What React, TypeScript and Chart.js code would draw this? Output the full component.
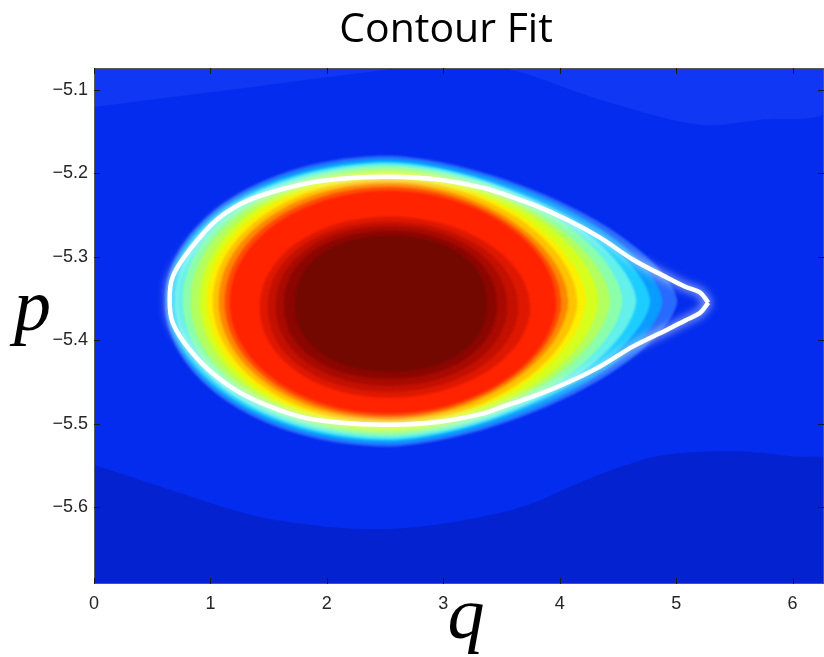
import { useEffect, useRef } from 'react';
import { Chart, registerables } from 'chart.js';

// ---- text ----
const TITLE = 'Contour Fit';
const X_LABEL = 'q';
const Y_LABEL = 'p';

// ---- axes ----
const Q_MIN = 0;
const Q_MAX = 6.27;
const P_MIN = -5.692;
const P_MAX = -5.074;
const xTickValues = [0, 1, 2, 3, 4, 5, 6];
const yTickValues = [-5.6, -5.5, -5.4, -5.3, -5.2, -5.1];

// ---- white fitted contour (q, p) ----
const contourQ = [5.276, 5.207, 5.078, 4.923, 4.631, 4.347, 4.063, 3.771, 3.487, 3.341, 2.972, 2.542, 2.114, 1.770, 1.339, 1.055, 0.822, 0.676, 0.650, 0.676, 0.822, 1.055, 1.339, 1.770, 2.114, 2.542, 2.972, 3.341, 3.487, 3.771, 4.063, 4.347, 4.631, 4.923, 5.078, 5.207, 5.276];
const contourP = [-5.3551, -5.3431, -5.3359, -5.3251, -5.3036, -5.2772, -5.2557, -5.2377, -5.2237, -5.2174, -5.2078, -5.2042, -5.2066, -5.2138, -5.2317, -5.2557, -5.2916, -5.3240, -5.3515, -5.3790, -5.4114, -5.4437, -5.4689, -5.4916, -5.4988, -5.5012, -5.4976, -5.4880, -5.4808, -5.4673, -5.4509, -5.4314, -5.4074, -5.3874, -5.3763, -5.3671, -5.3551];

// ---- filled contour levels (outer -> inner): extents ----
const levelLeftQ = [0.607, 0.624, 0.650, 0.693, 0.762, 0.830, 0.908, 0.968, 1.020, 1.071, 1.123, 1.166, 1.424, 1.492, 1.561, 1.630, 1.725];
const levelRightQ = [5.010, 4.882, 4.777, 4.657, 4.537, 4.433, 4.330, 4.227, 4.150, 4.072, 4.012, 3.969, 3.745, 3.642, 3.548, 3.462, 3.376];
const levelTopP = [-5.1790, -5.1826, -5.1862, -5.1880, -5.1910, -5.1946, -5.1982, -5.2018, -5.2066, -5.2114, -5.2162, -5.2210, -5.2521, -5.2581, -5.2629, -5.2689, -5.2749];
const levelBottomP = [-5.5275, -5.5240, -5.5204, -5.5180, -5.5144, -5.5108, -5.5072, -5.5036, -5.5000, -5.4952, -5.4916, -5.4880, -5.4689, -5.4617, -5.4545, -5.4461, -5.4377];
const levelPeakQ = [2.542, 2.542, 2.542, 2.542, 2.542, 2.542, 2.542, 2.542, 2.542, 2.542, 2.542, 2.542, 2.542, 2.542, 2.542, 2.542, 2.542];
const levelLeftShape = [2.0, 2.0, 2.0, 2.0, 2.0, 2.0, 2.0, 2.0, 2.0, 2.0, 2.0, 2.0, 2.05, 2.1, 2.1, 2.15, 2.15];
const levelRightShape = [1.55, 1.6, 1.6, 1.65, 1.7, 1.7, 1.75, 1.75, 1.8, 1.8, 1.85, 1.9, 1.95, 2.0, 2.05, 2.1, 2.15];
const levelColors = [
  'rgb(40,105,255)', 'rgb(10,155,255)', 'rgb(30,205,255)', 'rgb(100,240,235)',
  'rgb(140,255,170)', 'rgb(178,255,95)', 'rgb(215,255,30)', 'rgb(250,240,0)',
  'rgb(255,195,0)', 'rgb(255,135,0)', 'rgb(255,75,0)', 'rgb(255,35,0)',
  'rgb(222,24,0)', 'rgb(195,16,0)', 'rgb(168,10,0)', 'rgb(140,6,0)', 'rgb(114,8,0)',
];

// ---- background level regions ----
const BASE_BLUE = 'rgb(4,44,238)';
const lowerRegionQ = [-0.05, 0.822, 1.396, 1.966, 2.542, 3.118, 3.694, 4.267, 4.837, 5.471, 5.987, 6.32];
const lowerRegionP = [-5.547, -5.587, -5.611, -5.623, -5.626, -5.617, -5.599, -5.565, -5.539, -5.533, -5.539, -5.548];
const lowerRegionColor = 'rgb(4,34,208)';
const upperRegionQ = [-0.05, 1.17, 2.378, 3.0, 3.582, 4.35, 5.198, 5.72, 6.32];
const upperRegionP = [-5.1216, -5.100, -5.0784, -5.068, -5.076, -5.112, -5.1419, -5.136, -5.1216];
const upperRegionColor = 'rgb(16,55,243)';

const RING_STEPS = 120;

function levelOutline(i: number) {
  const pts: { x: number; y: number }[] = [];
  const cp = (levelTopP[i] + levelBottomP[i]) / 2;
  const h = (levelTopP[i] - levelBottomP[i]) / 2;
  for (let k = 0; k <= RING_STEPS; k++) {
    const t = (2 * Math.PI * k) / RING_STEPS;
    const c = Math.cos(t);
    const s = Math.sin(t);
    const right = c >= 0;
    const a = right ? levelRightQ[i] - levelPeakQ[i] : levelPeakQ[i] - levelLeftQ[i];
    const n = right ? levelRightShape[i] : levelLeftShape[i];
    const e = 2 / n;
    pts.push({
      x: levelPeakQ[i] + a * Math.sign(c) * Math.pow(Math.abs(c), e),
      y: cp + h * Math.sign(s) * Math.pow(Math.abs(s), e),
    });
  }
  return pts;
}

function regionUpper() {
  const pts = upperRegionQ.map((q, i) => ({ x: q, y: upperRegionP[i] }));
  pts.push({ x: 6.32, y: -4.9 }, { x: -0.05, y: -4.9 });
  return pts;
}
function regionLower() {
  const pts = lowerRegionQ.map((q, i) => ({ x: q, y: lowerRegionP[i] }));
  pts.push({ x: 6.32, y: -5.9 }, { x: -0.05, y: -5.9 });
  return pts;
}

const decor = {
  id: 'decor',
  beforeDatasetsDraw(chart: any) {
    const { ctx, chartArea: a } = chart;
    ctx.save();
    ctx.fillStyle = BASE_BLUE;
    ctx.fillRect(a.left, a.top, a.right - a.left, a.bottom - a.top);
    ctx.restore();
  },
  beforeDatasetDraw(chart: any, args: any) {
    const ds = args.meta && args.meta._dataset;
    if (!ds) return;
    const ctx = chart.ctx;
    if (ds.isContour) {
      ctx.save();
      ctx.shadowColor = 'rgba(230,255,255,1)';
      ctx.shadowBlur = 10;
    } else if (ds.isLevel) {
      ctx.save();
      ctx.filter = 'blur(1.3px)';
    }
  },
  afterDatasetDraw(chart: any, args: any) {
    const ds = args.meta && args.meta._dataset;
    if (!ds) return;
    if (ds.isContour || ds.isLevel) chart.ctx.restore();
  },
  afterDraw(chart: any) {
    const { ctx, chartArea: a, scales } = chart;
    const xs = scales.x;
    const ys = scales.y;
    ctx.save();
    ctx.strokeStyle = '#5a5a5a';
    ctx.lineWidth = 1;
    ctx.strokeRect(a.left + 0.5, a.top + 0.5, a.right - a.left - 1, a.bottom - a.top - 1);
    ctx.strokeStyle = '#1a1a1a';
    ctx.beginPath();
    for (const v of xTickValues) {
      const x = Math.round(xs.getPixelForValue(v)) + 0.5;
      ctx.moveTo(x, a.bottom);
      ctx.lineTo(x, a.bottom - 6);
      ctx.moveTo(x, a.top);
      ctx.lineTo(x, a.top + 6);
    }
    for (const v of yTickValues) {
      const y = Math.round(ys.getPixelForValue(v)) + 0.5;
      ctx.moveTo(a.left, y);
      ctx.lineTo(a.left + 6, y);
      ctx.moveTo(a.right, y);
      ctx.lineTo(a.right - 6, y);
    }
    ctx.stroke();
    ctx.fillStyle = '#000';
    ctx.textAlign = 'center';
    ctx.textBaseline = 'alphabetic';
    ctx.font = '41px "Open Sans"';
    ctx.fillText(TITLE, 446, 42);
    ctx.font = 'italic 74px "Liberation Serif"';
    ctx.textAlign = 'left';
    ctx.fillText(Y_LABEL, 14, 330);
    ctx.textAlign = 'center';
    ctx.fillText(X_LABEL, 466, 638);
    ctx.restore();
  },
};

// register the decor plugin before the built-ins so its per-dataset hooks run before the filler
Chart.register(decor as any);
Chart.register(...registerables);

export default function App() {
  const ref = useRef<HTMLCanvasElement | null>(null);
  useEffect(() => {
    if (!ref.current) return;
    const levelSets = levelColors.map((col, i) => ({
      data: levelOutline(i),
      backgroundColor: col,
      borderColor: 'transparent',
      borderWidth: 0,
      fill: 'shape',
      pointRadius: 0,
      tension: 0,
      order: 30 - i,
      isLevel: true,
    }));
    const chart = new Chart(ref.current, {
      type: 'line',
      data: {
        datasets: [
          {
            data: contourQ.map((q, i) => ({ x: q, y: contourP[i] })),
            borderColor: '#ffffff',
            borderWidth: 4.5,
            fill: false,
            pointRadius: 0,
            tension: 0.35,
            order: 0,
            isContour: true,
          } as any,
          ...levelSets,
          {
            data: regionLower(),
            backgroundColor: lowerRegionColor,
            borderColor: 'transparent',
            borderWidth: 0,
            fill: 'shape',
            pointRadius: 0,
            tension: 0.3,
            order: 40,
          },
          {
            data: regionUpper(),
            backgroundColor: upperRegionColor,
            borderColor: 'transparent',
            borderWidth: 0,
            fill: 'shape',
            pointRadius: 0,
            tension: 0.3,
            order: 41,
          },
        ],
      },
      options: {
        animation: false,
        responsive: false,
        devicePixelRatio: 1,
        layout: { padding: { top: 68, left: 0, right: 0, bottom: 0 } },
        plugins: { legend: { display: false }, tooltip: { enabled: false }, title: { display: false } },
        scales: {
          x: {
            type: 'linear',
            min: Q_MIN,
            max: Q_MAX,
            grid: { display: false, drawTicks: false },
            border: { display: false },
            afterBuildTicks: (s: any) => { s.ticks = xTickValues.map((v) => ({ value: v })); },
            afterFit: (s: any) => { s.height = 73; },
            ticks: {
              padding: 9,
              maxRotation: 0,
              color: '#262626',
              font: { family: '"Liberation Sans", Arial, sans-serif', size: 18 },
              callback: (v: any) => String(v),
            },
          },
          y: {
            type: 'linear',
            min: P_MIN,
            max: P_MAX,
            grid: { display: false, drawTicks: false },
            border: { display: false },
            afterBuildTicks: (s: any) => { s.ticks = yTickValues.map((v) => ({ value: v })); },
            afterFit: (s: any) => { s.width = 94; },
            ticks: {
              padding: 6,
              color: '#262626',
              font: { family: '"Liberation Sans", Arial, sans-serif', size: 18 },
              callback: (v: any) => '\u2212' + Math.abs(Number(v)).toFixed(1),
            },
          },
        },
      },
    } as any);
    return () => chart.destroy();
  }, []);
  return (
    <div style={{ position: 'absolute', left: 0, top: 0, width: 824, height: 657, background: '#fff' }}>
      <canvas ref={ref} width={824} height={657} style={{ display: 'block', width: 824, height: 657 }} />
    </div>
  );
}
